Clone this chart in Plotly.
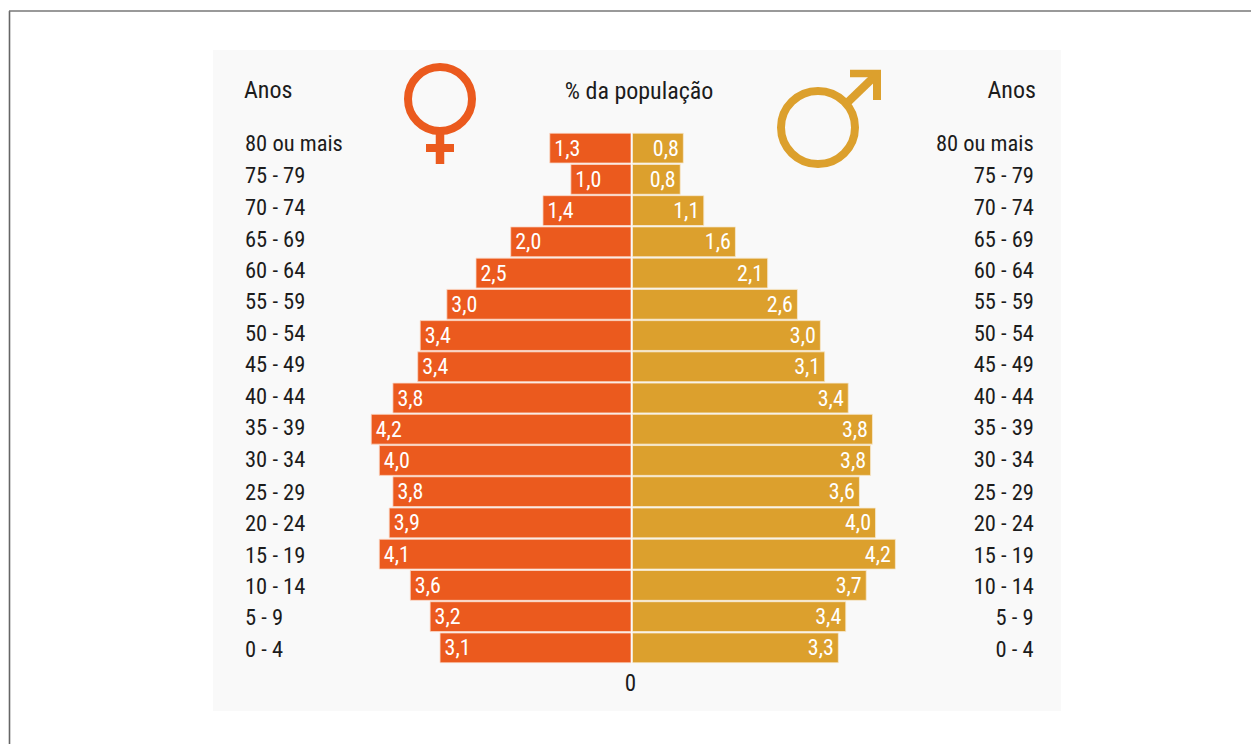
import plotly.graph_objects as go

W, H = 1251, 744

age_groups = ["80 ou mais", "75 - 79", "70 - 74", "65 - 69", "60 - 64", "55 - 59", "50 - 54", "45 - 49", "40 - 44",
              "35 - 39", "30 - 34", "25 - 29", "20 - 24", "15 - 19", "10 - 14", "5 - 9", "0 - 4"]
female_labels = ["1,3", "1,0", "1,4", "2,0", "2,5", "3,0", "3,4", "3,4", "3,8", "4,2", "4,0", "3,8", "3,9", "4,1", "3,6", "3,2", "3,1"]
male_labels = ["0,8", "0,8", "1,1", "1,6", "2,1", "2,6", "3,0", "3,1", "3,4", "3,8", "3,8", "3,6", "4,0", "4,2", "3,7", "3,4", "3,3"]
# bar lengths
female_values = [1.31, 0.97, 1.42, 1.94, 2.50, 2.97, 3.40, 3.44, 3.84, 4.19, 4.06, 3.84, 3.90, 4.06, 3.56, 3.24, 3.08]
male_values = [0.82, 0.77, 1.15, 1.66, 2.18, 2.66, 3.03, 3.10, 3.48, 3.87, 3.84, 3.66, 3.92, 4.24, 3.77, 3.44, 3.32]

ORANGE = "#EB5A1E"
GOLD = "#DCA02D"
INK = "#1c1c1c"
PANEL = "#F9F9F9"
FONT = "Roboto"
PX_PER_UNIT = 62.0
MAX_UNITS = 4.5


def fx(px):
    return px / W


def fy(px):
    return 1 - px / H


fig = go.Figure()
common = dict(y=age_groups, orientation="h", textposition="inside", insidetextanchor="end",
              textangle=0, constraintext="none", cliponaxis=False, showlegend=False, hoverinfo="skip",
              textfont=dict(family=FONT, size=22, color="white"))
fig.add_trace(go.Bar(x=female_values, text=female_labels, xaxis="x", yaxis="y",
                     marker=dict(color=ORANGE, line=dict(color="#FBD9C8", width=0.8)), **common))
fig.add_trace(go.Bar(x=male_values, text=male_labels, xaxis="x2", yaxis="y",
                     marker=dict(color=GOLD, line=dict(color="#F7EAD0", width=0.8)), **common))

shapes = [
    # page frame and panel
    dict(type="rect", xref="paper", yref="paper", x0=fx(213), x1=fx(1061), y0=fy(711), y1=fy(50),
         fillcolor=PANEL, line_width=0, layer="below"),
    dict(type="line", xref="paper", yref="paper", x0=fx(9.5), x1=fx(9.5), y0=0, y1=fy(11),
         line=dict(color="#666666", width=1.6)),
    dict(type="line", xref="paper", yref="paper", x0=fx(9), x1=1, y0=fy(11), y1=fy(11),
         line=dict(color="#777777", width=1.6)),
    # female symbol
    dict(type="circle", xref="paper", yref="paper", x0=fx(408), x1=fx(472), y0=fy(131), y1=fy(67),
         line=dict(color=ORANGE, width=8)),
    dict(type="line", xref="paper", yref="paper", x0=fx(440), x1=fx(440), y0=fy(134), y1=fy(164),
         line=dict(color=ORANGE, width=8.5)),
    dict(type="line", xref="paper", yref="paper", x0=fx(426), x1=fx(454), y0=fy(148), y1=fy(148),
         line=dict(color=ORANGE, width=8)),
    # male symbol
    dict(type="circle", xref="paper", yref="paper", x0=fx(781), x1=fx(855), y0=fy(164), y1=fy(91),
         line=dict(color=GOLD, width=8)),
    dict(type="line", xref="paper", yref="paper", x0=fx(848), x1=fx(876), y0=fy(102), y1=fy(75),
         line=dict(color=GOLD, width=8)),
    dict(type="line", xref="paper", yref="paper", x0=fx(850), x1=fx(881), y0=fy(73.5), y1=fy(73.5),
         line=dict(color=GOLD, width=7.5)),
    dict(type="line", xref="paper", yref="paper", x0=fx(877), x1=fx(877), y0=fy(70), y1=fy(100),
         line=dict(color=GOLD, width=8)),
]

row_text_y = [143, 175, 207, 239, 270, 301, 333, 364, 396, 427, 459, 492, 523, 555, 586, 617, 649]
annotations = []


def note(text, x, y, anchor, size=22.5):
    annotations.append(dict(text=text, xref="paper", yref="paper", x=fx(x), y=fy(y), xanchor=anchor, yanchor="middle",
                            align=anchor, showarrow=False, font=dict(family=FONT, size=size, color=INK)))


note("Anos", 242, 90, "left", 24)
note("Anos", 1038, 90, "right", 24)
note("% da população", 638.5, 91, "center", 24)
note("0", 630, 683, "center", 23)
for label, y in zip(age_groups, row_text_y):
    note(label, 243, y, "left")
    note(label, 1036, y, "right")

fig.update_layout(
    width=W, height=H, margin=dict(l=0, r=0, t=0, b=0), autosize=False,
    paper_bgcolor="white", plot_bgcolor="rgba(0,0,0,0)",
    barmode="overlay", bargap=0.045,
    shapes=shapes, annotations=annotations,
    xaxis=dict(domain=[fx(631 - MAX_UNITS * PX_PER_UNIT), fx(631)], range=[MAX_UNITS, 0], visible=False, fixedrange=True),
    xaxis2=dict(domain=[fx(632.5), fx(632.5 + MAX_UNITS * PX_PER_UNIT)], range=[0, MAX_UNITS], visible=False, fixedrange=True),
    yaxis=dict(domain=[fy(663.5), fy(132.5)], autorange="reversed", visible=False, fixedrange=True),
)
fig.write_html("out.html",
               post_script="document.body.style.margin='0';document.body.style.background='white';"
                           "var s=document.createElement('style');s.textContent='svg text{font-stretch:75%}';document.head.appendChild(s);",
               config={"displayModeBar": False})
